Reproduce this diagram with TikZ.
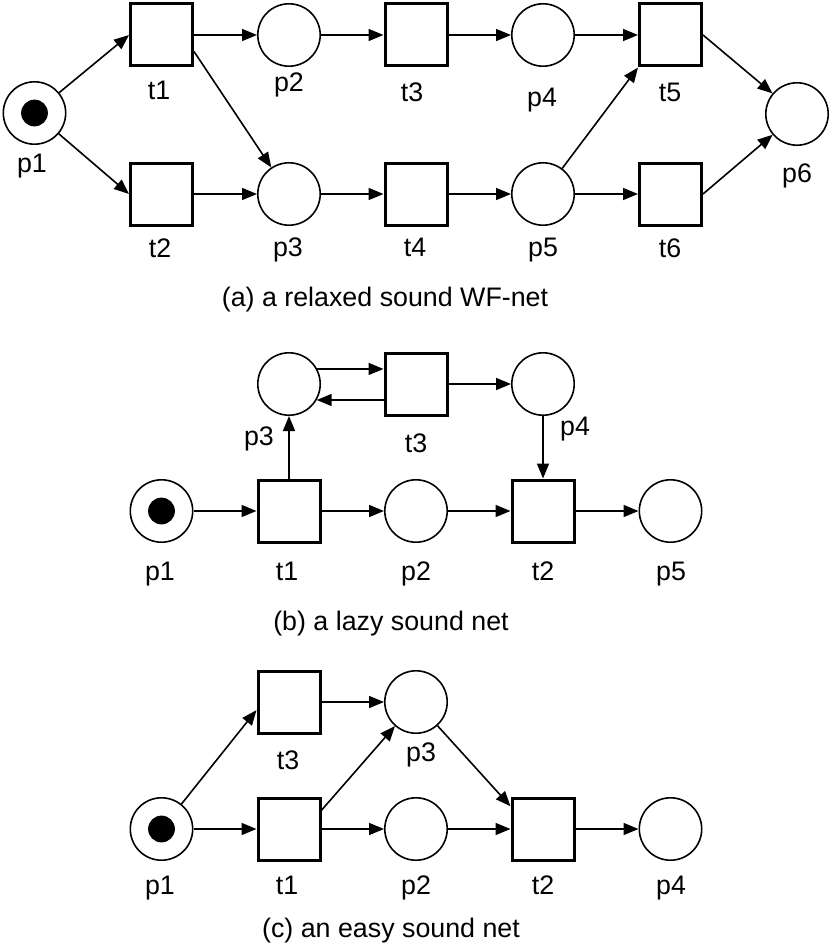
\documentclass[tikz,border=0pt]{standalone}
\usepackage{fontspec}
\setmainfont{Liberation Sans}
\usetikzlibrary{arrows.meta}

\begin{document}
\begin{tikzpicture}[x=0.5pt,y=-0.5pt,
    pl/.style={draw,circle,line width=0.8pt,minimum size=31.2pt,inner sep=0pt},
    tr/.style={draw,rectangle,line width=1.5pt,minimum size=31pt,inner sep=0pt},
    arc/.style={line width=0.8pt,-{Triangle[length=7.5pt,width=6pt]}},
    lbl/.style={anchor=base,inner sep=0pt,font=\fontsize{13.4}{16}\selectfont}]
      \useasboundingbox (0,0) rectangle (831,947);

      % (a) relaxed sound
      \node[pl] (ap1) at (34.5,113) {};
      \node[tr] (at1) at (161.5,35) {};
      \node[tr] (at2) at (161.5,194) {};
      \node[pl] (ap2) at (289,35) {};
      \node[pl] (ap3) at (289,194) {};
      \node[tr] (at3) at (416,35) {};
      \node[tr] (at4) at (416,194) {};
      \node[pl] (ap4) at (543,35) {};
      \node[pl] (ap5) at (543,194) {};
      \node[tr] (at5) at (670.5,35) {};
      \node[tr] (at6) at (670.5,194) {};
      \node[pl] (ap6) at (797,114) {};
      \foreach \u/\v in {ap1/at1.west, ap1/at2.west, at1/ap2, at2/ap3, ap2/at3, ap3/at4,
          at3/ap4, at4/ap5, ap4/at5, ap5/at6, at1.-27/ap3, ap5/at5.south west,
          at5.east/ap6, at6.east/ap6}
        \draw[arc] (\u) -- (\v);
      \foreach \n/\t/\x/\y in {ap1/p1/32/172, at1/t1/159/99, ap2/p2/289/92, at3/t3/412/102,
          ap4/p4/542/106, at5/t5/670/102, ap6/p6/797/182, at2/t2/160/257,
          ap3/p3/288/256, at4/t4/415/256, ap5/p5/543/256, at6/t6/670/257}
        \node[lbl] (l\n) at (\x,\y) {\t};
      \node[lbl] (capa) at (385,306) {(a) a relaxed sound WF-net};

      % (b) lazy sound
      \node[pl] (bp1) at (161.5,511) {};
      \node[tr] (bt1) at (289,511) {};
      \node[pl] (bp2) at (416,511) {};
      \node[tr] (bt2) at (543,511) {};
      \node[pl] (bp5) at (670.5,511) {};
      \node[pl] (bp3) at (289,384) {};
      \node[tr] (bt3) at (416,384) {};
      \node[pl] (bp4) at (543,384) {};
      \foreach \u/\v in {bp1/bt1, bt1/bp2, bp2/bt2, bt2/bp5, bt1/bp3, bp4/bt2, bt3/bp4}
        \draw[arc] (\u) -- (\v);
      \draw[arc] (bp3.28) -- (bp3.28 -| bt3.west);
      \draw[arc] (bp3.-30 -| bt3.west) -- (bp3.-30);
      \foreach \n/\t/\x/\y in {bp3/p3/259/445, bt3/t3/416/452, bp4/p4/575/435,
          bp1/p1/160/580, bt1/t1/287/580, bp2/p2/416/580, bt2/t2/543/580, bp5/p5/671/580}
        \node[lbl] (l\n) at (\x,\y) {\t};
      \node[lbl] (capb) at (391,630) {(b) a lazy sound net};

      % (c) easy sound
      \node[pl] (cp1) at (161.5,829) {};
      \node[tr] (ct1) at (289,829) {};
      \node[pl] (cp2) at (416,829) {};
      \node[tr] (ct2) at (543,829) {};
      \node[pl] (cp4) at (670.5,829) {};
      \node[tr] (ct3) at (289,702) {};
      \node[pl] (cp3) at (416,702) {};
      \foreach \u/\v in {cp1/ct1, cp1/ct3.194, ct3/cp3, ct1.30/cp3, ct1/cp2, cp2/ct2,
          cp3/ct2.145, ct2/cp4}
        \draw[arc] (\u) -- (\v);
      \foreach \n/\t/\x/\y in {ct3/t3/288/769, cp3/p3/421/761, cp1/p1/160/894,
          ct1/t1/287/894, cp2/p2/416/894, ct2/t2/543/894, cp4/p4/671/894}
        \node[lbl] (l\n) at (\x,\y) {\t};
      \node[lbl] (capc) at (391,937) {(c) an easy sound net};

      % tokens
      \foreach \p in {ap1,bp1,cp1}
        \fill (\p) circle (6.7pt);
\end{tikzpicture}
\end{document}
